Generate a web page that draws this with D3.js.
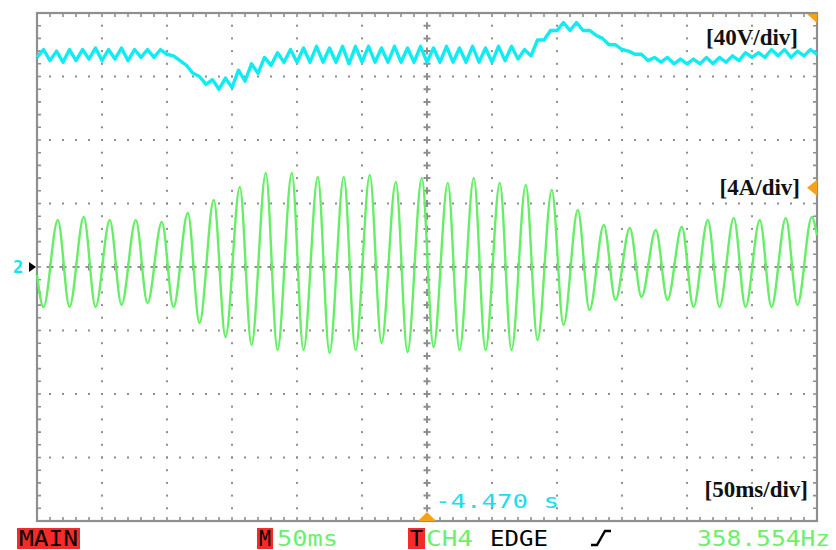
<!DOCTYPE html>
<html>
<head>
<meta charset="utf-8">
<script src="https://cdn.jsdelivr.net/npm/d3@7"></script>
<style>
  html, body { margin: 0; padding: 0; background: #ffffff; }
  svg { display: block; }
</style>
</head>
<body>
<svg id="scope" width="836" height="550"></svg>
<script>
// ---- Screen settings: 12 x 50 ms horizontally, 8 vertical divisions ----
const timeDomainMs = [0, 600];
const voltDomain = [-160, 160];   // 40 V/div
const ampDomain = [-16, 16];      // 4 A/div

// ---- Channel 1: DC-link voltage (V), one sample every 5 ms ----
const voltStepMs = 5;
const voltValues = [
  132, 137, 130, 136, 129, 137, 130, 137, 131, 138,
  130, 137, 131, 138, 130, 137, 132, 137, 132, 137,
  134, 133, 130, 127, 122, 120, 115, 118, 112, 119,
  113, 124, 117, 128, 122, 132, 127, 135, 129, 137,
  129, 138, 129, 139, 129, 138, 129, 139, 128, 139,
  129, 139, 129, 138, 129, 139, 129, 138, 129, 139,
  129, 138, 129, 139, 129, 138, 129, 139, 129, 138,
  129, 139, 130, 139, 131, 137, 133, 143, 143, 149,
  149, 154, 149, 154, 149, 149, 146, 144, 140, 140,
  137, 136, 134, 134, 130, 132, 129, 132, 128, 131,
  128, 131, 128, 132, 128, 132, 129, 133, 130, 135,
  132, 135, 132, 137, 133, 137, 132, 136, 133, 137,
  134
];

// ---- Channel 2: phase current (A), extrema of each cycle ----
const currentPeakTimesMs = [
  16, 36, 56, 76, 96, 116, 136, 156, 176, 196,
  216, 236, 256, 276, 296, 316, 336, 356, 376, 396,
  416, 436, 456, 476, 496, 516, 536, 556, 576, 596
];
const currentPeakAmps = [
  2.96, 3.15, 2.96, 2.96, 2.83, 3.40, 4.22, 5.04, 5.92, 5.92,
  5.67, 5.67, 5.80, 5.35, 5.61, 5.29, 5.61, 5.29, 5.17, 4.85,
  3.59, 2.65, 2.46, 2.33, 2.52, 2.96, 3.09, 2.96, 3.09, 3.15
];
const currentTroughTimesMs = [
  5, 25, 45, 65, 85, 105, 125, 145, 165, 185,
  205, 225, 245, 265, 285, 305, 325, 345, 365, 385,
  405, 425, 445, 465, 485, 505, 525, 545, 565, 585
];
const currentTroughAmps = [
  -2.52, -2.52, -2.52, -2.39, -2.27, -2.52, -3.53, -4.41, -4.91, -5.23,
  -5.23, -5.42, -5.23, -4.79, -5.36, -5.04, -5.23, -5.23, -5.23, -4.60,
  -3.65, -2.71, -2.08, -1.89, -2.08, -2.52, -2.52, -2.52, -2.52, -2.39
];
const currentEndTimesMs = [0, 600];
const currentEndAmps = [-0.5, 2.0];

// ---- Scale annotations and status line ----
const scaleLabels = ["[40V/div]", "[4A/div]", "[50ms/div]"];
const triggerTimeLabel = "-4.470 s";
const statusItems = [
  { text: "MAIN", color: "#000000", box: true },
  { text: "M", color: "#000000", box: true },
  { text: "50ms", color: "#6cf06c", box: false },
  { text: "T", color: "#000000", box: true },
  { text: "CH4", color: "#6cf06c", box: false },
  { text: "EDGE", color: "#000000", box: false },
  { text: "358.554Hz", color: "#6cf06c", box: false }
];

// ---------------------------------------------------------------
const svg = d3.select("#scope");
const L = 37, R = 817, T = 13, B = 521;

const x = d3.scaleLinear().domain(timeDomainMs).range([L, R]);
const yA = d3.scaleLinear().domain(ampDomain).range([B, T]);
const yV = d3.scaleLinear().domain(voltDomain).range([B, T]);

const gridColor = "#8f8f8f";
const majorT = d3.range(0, 13).map(i => i * 50);
const minorT = d3.range(0, 61).map(i => i * 10);
const majorA = d3.range(0, 9).map(i => -16 + i * 4);
const minorA = d3.range(0, 41).map(i => -16 + i * 0.8);

const grid = svg.append("g");

// dotted graticule
majorT.filter(t => t > 0 && t < 600 && t !== 300).forEach(t => {
  grid.selectAll(null)
    .data(minorA.filter((a, i) => i > 0 && i < 40))
    .enter().append("rect")
    .attr("x", x(t) - 1).attr("y", a => yA(a) - 1)
    .attr("width", 2).attr("height", 2)
    .attr("fill", gridColor);
});
majorA.filter(a => a > -16 && a < 16 && a !== 0).forEach(a => {
  grid.selectAll(null)
    .data(minorT.filter((t, i) => i > 0 && i < 60))
    .enter().append("rect")
    .attr("x", t => x(t) - 1).attr("y", yA(a) - 1)
    .attr("width", 2).attr("height", 2)
    .attr("fill", gridColor);
});

// centre axes drawn as small crosses
const cross = (cx, cy) => `M${cx - 3.5},${cy}H${cx + 3.5}M${cx},${cy - 3.5}V${cy + 3.5}`;
grid.append("path")
  .attr("d",
    minorT.filter((t, i) => i > 0 && i < 60).map(t => cross(x(t), yA(0))).join("") +
    minorA.filter((a, i) => i > 0 && i < 40).map(a => cross(x(300), yA(a))).join(""))
  .attr("stroke", gridColor).attr("stroke-width", 2).attr("fill", "none");

// frame with inward minor ticks
grid.append("rect")
  .attr("x", L).attr("y", T).attr("width", R - L).attr("height", B - T)
  .attr("fill", "none").attr("stroke", gridColor).attr("stroke-width", 2.2);
const tickPath =
  minorT.filter((t, i) => i > 0 && i < 60).map(t =>
    `M${x(t)},${T}V${T + 4}M${x(t)},${B}V${B - 4}`).join("") +
  minorA.filter((a, i) => i > 0 && i < 40).map(a =>
    `M${L},${yA(a)}H${L + 4}M${R},${yA(a)}H${R - 4}`).join("");
grid.append("path").attr("d", tickPath)
  .attr("stroke", gridColor).attr("stroke-width", 1.6).attr("fill", "none");

// ---- traces ----
const voltData = voltValues.map((v, i) => ({ t: i * voltStepMs, v }));
svg.append("path")
  .datum(voltData)
  .attr("fill", "none")
  .attr("stroke", "#10ecf2")
  .attr("stroke-width", 3.4)
  .attr("stroke-linejoin", "round")
  .attr("d", d3.line().x(d => x(d.t)).y(d => yV(d.v)));

const currentData = []
  .concat(currentPeakTimesMs.map((t, i) => ({ t, a: currentPeakAmps[i] })))
  .concat(currentTroughTimesMs.map((t, i) => ({ t, a: currentTroughAmps[i] })))
  .concat(currentEndTimesMs.map((t, i) => ({ t, a: currentEndAmps[i] })))
  .sort((p, q) => p.t - q.t);
svg.append("path")
  .datum(currentData)
  .attr("fill", "none")
  .attr("stroke", "#66ee66")
  .attr("stroke-width", 2.4)
  .attr("d", d3.line().x(d => x(d.t)).y(d => yA(d.a)).curve(d3.curveMonotoneX));

// ---- markers ----
const orange = "#f5a21b";
svg.append("path").attr("fill", orange)
  .attr("d", `M${R - 10},${T + 1}H${R}V${T + 10}Z`);
svg.append("path").attr("fill", orange)
  .attr("d", `M${R},${yA(5.0) - 8}V${yA(5.0) + 8}L${R - 10},${yA(5.0)}Z`);
svg.append("path").attr("fill", orange)
  .attr("d", `M${x(300)},${B - 9}L${x(300) + 9},${B}H${x(300) - 9}Z`);

// channel 2 ground reference
svg.append("path").attr("fill", "#000")
  .attr("d", `M${L - 8},${yA(0) - 5}L${L - 1},${yA(0)}L${L - 8},${yA(0) + 5}Z`);
svg.append("text")
  .attr("x", 13).attr("y", yA(0) + 6)
  .attr("font-family", "DejaVu Sans Mono").attr("font-size", 17).attr("font-weight", "bold")
  .attr("fill", "#18e4f0").text("2");

// ---- scale annotations ----
const labelPos = [[798, 45], [800, 195], [808, 497]];
svg.selectAll("text.scale")
  .data(scaleLabels)
  .enter().append("text")
  .attr("class", "scale")
  .attr("x", (d, i) => labelPos[i][0]).attr("y", (d, i) => labelPos[i][1])
  .attr("text-anchor", "end")
  .attr("font-family", "Liberation Serif, Times New Roman, serif")
  .attr("font-weight", "bold").attr("font-size", 23)
  .attr("fill", "#111").text(d => d);

svg.append("text")
  .attr("x", 435).attr("y", 508)
  .attr("font-family", "DejaVu Sans Mono").attr("font-size", 19)
  .attr("textLength", 124).attr("lengthAdjust", "spacingAndGlyphs")
  .attr("fill", "#22dcee").text(triggerTimeLabel);

// ---- status line ----
const statusX = [[17, 63], [257, 16], [277, 61], [408, 17], [426, 47], [490, 58], [697, 133]];
const status = svg.append("g");
statusItems.forEach((s, i) => {
  const [sx, sw] = statusX[i];
  if (s.box) {
    status.append("rect").attr("x", sx).attr("y", 528).attr("width", sw).attr("height", 21)
      .attr("fill", "#f52a2a");
  }
  status.append("text")
    .attr("x", sx + (s.box ? 2 : 0)).attr("y", 546)
    .attr("font-family", "DejaVu Sans Mono").attr("font-size", 21)
    .attr("textLength", sw - (s.box ? 4 : 0)).attr("lengthAdjust", "spacingAndGlyphs")
    .attr("fill", s.color).text(s.text);
});
// rising-edge symbol
status.append("path")
  .attr("d", "M591,545H597L605,531H611")
  .attr("fill", "none").attr("stroke", "#000").attr("stroke-width", 2.4);
</script>
</body>
</html>
